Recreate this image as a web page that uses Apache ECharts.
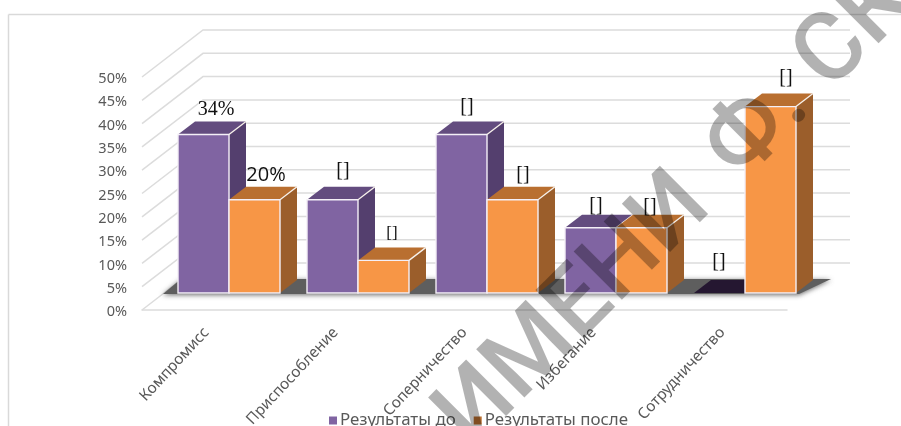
<!DOCTYPE html>
<html><head><meta charset="utf-8">
<style>html,body{margin:0;padding:0;background:#fff;overflow:hidden}#c{width:901px;height:426px}</style>
<script src="https://cdn.jsdelivr.net/npm/echarts@6/dist/echarts.min.js"></script>
</head><body><div id="c"></div>
<script>
const categories = ['Компромисс','Приспособление','Соперничество','Избегание','Сотрудничество'];
const valuesBefore = [34,20,34,14,0];
const valuesAfter = [20,7,20,14,40];
const labelsBefore = ['34%','[]','[]','[]','[]'];
const labelsAfter = ['20%','[]','[]','[]','[]'];
const yTicks = [0,5,10,15,20,25,30,35,40,45,50];
const seriesNames = ['Результаты до','Результаты после'];

// drawing style, geometry of the pseudo-3D projection
const WALL_DX = 61, WALL_DY = -47;
const PLANE_DX = 22.5, PLANE_DY = -17;
const BAR_W = 51, BAR_DX = 17, BAR_DY = -13;
const purple = {front:'#8064a2', top:'#634c7f', side:'#543f6e', zero:'#251731'};
const orange = {front:'#f79646', top:'#b96f30', side:'#9b5e2b', zero:'#b96f30'};
const nudgeBefore = [[4,-12],[2,-16],[-3,-15],[-3,-9],[-9,-18]];
const nudgeAfter = [[3,-12],[0,-14],[2,-12],[0,-8],[7,-16]];
const sizeBefore = [20,20,20,20,20];
const sizeAfter = [20,17,20,20,20];
const fontBefore = ['Liberation Serif','Liberation Serif','Liberation Serif','Liberation Serif','Liberation Serif'];
const fontAfter = ['Open Sans','Liberation Serif','Liberation Serif','Liberation Serif','Liberation Serif'];

function barRenderer(pal, slot, labels, nudges, sizes, fonts){
  return function(params, api){
    const i = api.value(0), v = api.value(1);
    const top = api.coord([i, v]);
    const x0 = top[0] + PLANE_DX + (slot - 1) * BAR_W;
    const x1 = x0 + BAR_W;
    const yt = top[1] + PLANE_DY;
    const base = api.coord([i, 0])[1] + PLANE_DY;
    const kids = [];
    if (v > 0) {
      kids.push({type:'polygon', shape:{points:[[x1,yt],[x1+BAR_DX,yt+BAR_DY],[x1+BAR_DX,base+BAR_DY],[x1,base]]}, style:{fill:pal.side}});
    }
    kids.push({type:'polygon', shape:{points:[[x0,yt],[x0+BAR_DX,yt+BAR_DY],[x1+BAR_DX,yt+BAR_DY],[x1,yt]]}, style:{fill:v>0?pal.top:pal.zero}});
    if (v > 0) {
      kids.push({type:'rect', shape:{x:x0,y:yt,width:BAR_W,height:base-yt}, style:{fill:pal.front,stroke:'#f4eff7',lineWidth:1.4}});
      kids.push({type:'line', shape:{x1:x1,y1:yt,x2:x1+BAR_DX,y2:yt+BAR_DY}, style:{stroke:'#f6f0ea',lineWidth:1.3}});
    }
    const n = nudges[i];
    kids.push({type:'text', style:{
      x:(x0+x1)/2 + BAR_DX/2 + n[0], y:yt + BAR_DY + n[1],
      text:labels[i], fill:'#111', font:sizes[i]+'px "'+fonts[i]+'"',
      align:'center', verticalAlign:'middle', textAlign:'center', textVerticalAlign:'middle'
    }});
    return {type:'group', children:kids};
  };
}

function wallRenderer(params, api){
  const v = api.value(1);
  const p = api.coord([0, v]);
  const cs = params.coordSys;
  return {type:'polyline', silent:true, shape:{points:[
    [cs.x, p[1]], [cs.x+WALL_DX, p[1]+WALL_DY], [cs.x+cs.width+WALL_DX+2, p[1]+WALL_DY]
  ]}, style:{stroke:'#dcdcdc',lineWidth:1.5,fill:'none'}};
}

function floorRenderer(params, api){
  const base = api.coord([0,0])[1];
  const cs = params.coordSys;
  return {type:'polygon', silent:true, shape:{points:[
    [cs.x+21, base-16],[cs.x+39, base-31],[cs.x+cs.width+44, base-31],[cs.x+cs.width+12, base-16]
  ]}, style:{fill:'#5e5e5e',shadowBlur:5,shadowColor:'rgba(70,70,70,0.8)',shadowOffsetY:1}};
}

const chart = echarts.init(document.getElementById('c'), null, {renderer:'canvas'});
chart.setOption({
  animation:false,
  backgroundColor:'#fff',
  grid:{left:142, top:77, width:645, height:233, outerBoundsMode:'none', containLabel:false},
  xAxis:{type:'category', data:categories, boundaryGap:true,
    axisLine:{show:true,lineStyle:{color:'#dcdcdc',width:1.5}}, axisTick:{show:false}, splitLine:{show:false},
    axisLabel:{rotate:47, interval:0, margin:20, fontSize:15.3, color:'#595959', fontFamily:'Noto Sans'}},
  yAxis:{type:'value', min:0, max:50, interval:5,
    axisLine:{show:false}, axisTick:{show:false}, splitLine:{show:false},
    axisLabel:{formatter:'{value}%', margin:15, fontSize:14.5, color:'#595959', fontFamily:'Noto Sans', verticalAlign:'top', lineHeight:4}},
  legend:{data:seriesNames, left:324, top:407, icon:'rect', itemWidth:8, itemHeight:8, itemGap:18,
    textStyle:{fontSize:16.9, color:'#595959', fontFamily:'Noto Sans', padding:[0,0,0,-2]}},
  graphic:[
    {type:'line', z:1, silent:true, shape:{x1:8.5,y1:14.5,x2:901,y2:14.5}, style:{stroke:'#d9d9d9',lineWidth:1.5}},
    {type:'line', z:1, silent:true, shape:{x1:8.5,y1:14.5,x2:8.5,y2:426}, style:{stroke:'#d9d9d9',lineWidth:1.5}},
    {type:'text', z:100, silent:true, x:454.5, y:433.5, rotation:Math.PI/4,
      style:{x:0,y:0,text:'ИМЕНИ', font:'500 96px "Roboto"', fill:'rgba(0,0,0,0.3)', align:'left', verticalAlign:'middle', textVerticalAlign:'middle'}},
    {type:'text', z:100, silent:true, x:722.5, y:165.5, rotation:Math.PI/4,
      style:{x:0,y:0,text:'Ф. СКОРИНЫ', font:'500 96px "Roboto"', fill:'rgba(0,0,0,0.3)', align:'left', verticalAlign:'middle', textVerticalAlign:'middle'}}
  ],
  series:[
    {type:'custom', name:'walls', silent:true, z:1, clip:false, renderItem:wallRenderer, data:yTicks.map(v=>[0,v]), encode:{x:0,y:1}},
    {type:'custom', name:'floor', silent:true, z:2, clip:false, renderItem:floorRenderer, data:[[0,0]], encode:{x:0,y:1}},
    {type:'custom', name:seriesNames[0], z:3, clip:false, itemStyle:{color:purple.front},
      renderItem:barRenderer(purple,0,labelsBefore,nudgeBefore,sizeBefore,fontBefore), data:valuesBefore.map((v,i)=>[i,v]), encode:{x:0,y:1}},
    {type:'custom', name:seriesNames[1], z:4, clip:false, itemStyle:{color:orange.top},
      renderItem:barRenderer(orange,1,labelsAfter,nudgeAfter,sizeAfter,fontAfter), data:valuesAfter.map((v,i)=>[i,v]), encode:{x:0,y:1}}
  ]
});
</script></body></html>
